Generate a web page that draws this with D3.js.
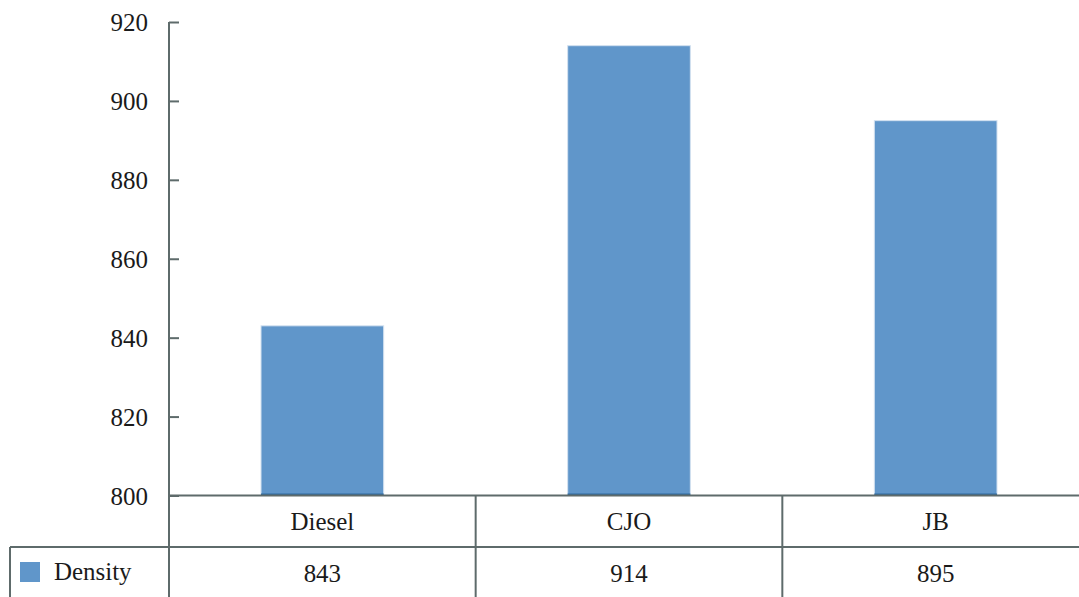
<!DOCTYPE html>
<html>
<head>
<meta charset="utf-8">
<script src="https://cdn.jsdelivr.net/npm/d3@7"></script>
<style>
  html, body { margin: 0; padding: 0; background: #fff; overflow: hidden; }
  svg { display: block; }
  text { font-family: "Liberation Serif", "Times New Roman", serif; fill: #1a1a1a; }
</style>
</head>
<body>
<svg id="chart" width="1079" height="597"></svg>
<script>
// Chart data
const categories = ["Diesel", "CJO", "JB"];
const densityValues = [843, 914, 895];
const seriesName = "Density";
const yTicks = [800, 820, 840, 860, 880, 900, 920];

const svg = d3.select("#chart");
const W = 1079, H = 597;

const plot = { left: 169, right: 1089, top: 22, bottom: 495.5 };
const rowH = 51.5;
const gridColor = "#5e6b6b";
const barColor = "#6096ca";
const fontSize = 26;
const stretch = 0.96; // slightly narrowed glyphs

// place a text element at (tx, ty) with horizontal scaling
function placeText(sel, tx, ty) {
  sel.attr("x", 0).attr("y", 0)
    .attr("transform", (d, i) => {
      const px = typeof tx === "function" ? tx(d, i) : tx;
      const py = typeof ty === "function" ? ty(d, i) : ty;
      return `translate(${px},${py}) scale(${stretch},1)`;
    });
}

const x = d3.scaleBand()
  .domain(categories)
  .range([plot.left, plot.right])
  .paddingInner(0.6)
  .paddingOuter(0.3);

// Column borders for the data table (one cell per category)
const colX = d3.scaleBand()
  .domain(categories)
  .range([plot.left, plot.right])
  .padding(0);

const y = d3.scaleLinear()
  .domain([800, 920])
  .range([plot.bottom, plot.top]);

// Bars
svg.append("g").selectAll("rect")
  .data(categories)
  .join("rect")
  .attr("x", d => x(d))
  .attr("width", x.bandwidth())
  .attr("y", (d, i) => y(densityValues[i]))
  .attr("height", (d, i) => y(800) - y(densityValues[i]))
  .attr("fill", barColor)
  .attr("stroke", "#d3e1f0")
  .attr("stroke-width", 1);

// Y axis with inward ticks
const yAxis = d3.axisLeft(y)
  .tickValues(yTicks)
  .tickSize(-10)
  .tickPadding(21)
  .tickFormat(d3.format("d"));

const yg = svg.append("g")
  .attr("transform", `translate(${plot.left},0)`)
  .call(yAxis);
yg.attr("font-family", null);
yg.select(".domain").remove();
yg.selectAll(".tick line").attr("stroke", gridColor).attr("stroke-width", 2);
yg.selectAll(".tick text")
  .attr("font-size", fontSize)
  .attr("fill", "#1a1a1a")
  .call(placeText, -21, 0.5);

// Dark baseline along each bar's foot
svg.append("g").selectAll("line")
  .data(categories)
  .join("line")
  .attr("x1", d => x(d))
  .attr("x2", d => x(d) + x.bandwidth())
  .attr("y1", plot.bottom - 1)
  .attr("y2", plot.bottom - 1)
  .attr("stroke", "#2f6aa0")
  .attr("stroke-width", 2);

// Grid lines of the axis and data table
const lines = svg.append("g")
  .attr("stroke", gridColor)
  .attr("stroke-width", 2)
  .attr("fill", "none");

// vertical axis line down through the table
lines.append("line")
  .attr("x1", plot.left).attr("x2", plot.left)
  .attr("y1", plot.top).attr("y2", H);
// horizontal axis line / table top
lines.append("line")
  .attr("x1", plot.left).attr("x2", W)
  .attr("y1", plot.bottom).attr("y2", plot.bottom);
// row separator (extends across the legend cell)
lines.append("line")
  .attr("x1", 10).attr("x2", W)
  .attr("y1", plot.bottom + rowH).attr("y2", plot.bottom + rowH);
// legend cell left border
lines.append("line")
  .attr("x1", 10).attr("x2", 10)
  .attr("y1", plot.bottom + rowH).attr("y2", H);
// column separators
lines.selectAll("line.col")
  .data(categories.slice(1))
  .join("line")
  .attr("class", "col")
  .attr("x1", d => colX(d)).attr("x2", d => colX(d))
  .attr("y1", plot.bottom).attr("y2", H);

// Category labels row
svg.append("g").selectAll("text")
  .data(categories)
  .join("text")
  .attr("dy", "0.35em")
  .attr("text-anchor", "middle")
  .attr("font-size", fontSize)
  .text(d => d)
  .call(placeText, d => colX(d) + colX.bandwidth() / 2, plot.bottom + rowH / 2);

// Value labels row
svg.append("g").selectAll("text")
  .data(categories)
  .join("text")
  .attr("dy", "0.35em")
  .attr("text-anchor", "middle")
  .attr("font-size", fontSize)
  .text((d, i) => densityValues[i])
  .call(placeText, d => colX(d) + colX.bandwidth() / 2, plot.bottom + rowH + 25.5);

// Legend key in the table's first column
const legend = svg.append("g");
legend.append("rect")
  .attr("x", 20).attr("y", 562)
  .attr("width", 20).attr("height", 20)
  .attr("fill", barColor);
legend.append("text")
  .attr("dy", "0.35em")
  .attr("font-size", fontSize)
  .text(seriesName)
  .call(placeText, 54, 570.5);
</script>
</body>
</html>
